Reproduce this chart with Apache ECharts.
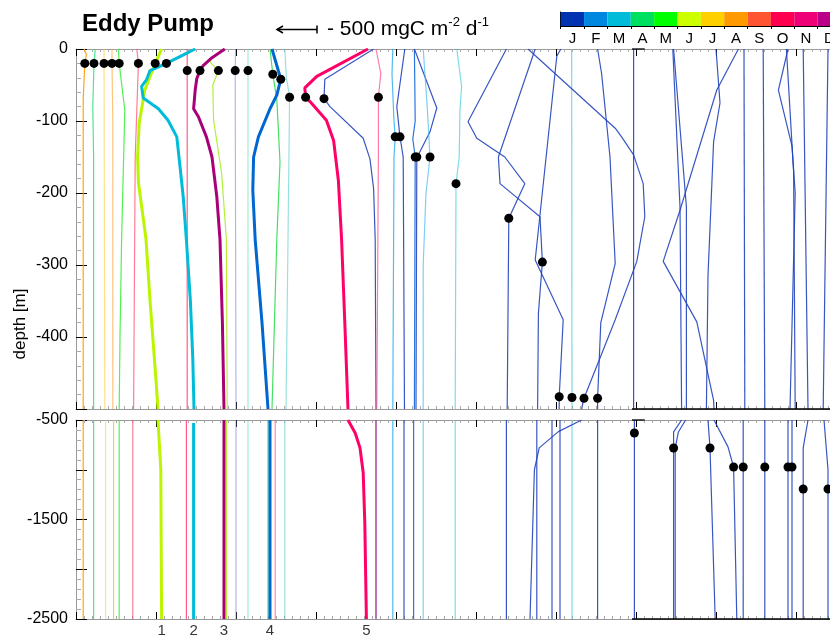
<!DOCTYPE html>
<html>
<head>
<meta charset="utf-8">
<script src="https://cdn.jsdelivr.net/npm/echarts@6/dist/echarts.min.js"></script>
<style>
html,body{margin:0;padding:0;background:#fff;}
#chart{width:830px;height:636px;}
</style>
</head>
<body>
<div id="chart"></div>
<script>
// Month colour scale
const months = ['J','F','M','A','M','J','J','A','S','O','N','D'];
const monthColors = ['#0033b0','#0088e0','#00bcd8','#00e060','#00ff00','#ccff00',
                     '#ffd000','#ff9900','#ff5533','#ff0050','#ee0077','#bb0088'];

// Flux profiles: [cumulative offset (100 mgC m-2 d-1), depth (m)]
// Upper panel 0..-500 m
const upperProfiles = [
  [[1.0,0],[1.3,-8],[1.1,-20],[0.9,-70],[0.9,-500]],
  [[2.4,0],[2.25,-20],[2.1,-80],[2.2,-150],[2.2,-500]],
  [[3.5,0],[3.6,-500]],
  [[4.5,0],[4.5,-20],[4.6,-100],[4.6,-500]],
  [[5.3,0],[5.4,-20],[6.1,-85],[5.7,-265],[5.5,-400],[5.4,-500]],
  [[7.6,0],[7.8,-20],[7.4,-150],[7.2,-500]],
  [[10.7,0],[9.9,-20],[8.6,-57],[7.9,-103],[7.7,-150],[7.8,-185],[8.75,-264],[9.25,-349],[10.0,-460],[10.25,-500]],
  [[14.9,0],[13.8,-6],[11.3,-20],[9.25,-30],[8.8,-43],[8.2,-52],[8.4,-68],[10.3,-83],[11.5,-99],[12.6,-122],[13.0,-163],[13.4,-205],[13.8,-265],[14.3,-350],[14.6,-430],[14.75,-500]],
  [[13.9,0],[13.9,-500]],
  [[18.6,0],[17.0,-12],[15.9,-23],[15.5,-30],[15.1,-41],[14.9,-57],[14.7,-83],[15.3,-94],[16.3,-122],[17.0,-150],[17.6,-205],[18.0,-265],[18.3,-380],[18.5,-500]],
  [[16.7,-15],[16.9,-20],[17.8,-30],[17.1,-50],[17.2,-99],[18.2,-172],[18.8,-265],[18.9,-500]],
  [[19.95,0],[19.9,-30],[20.0,-500]],
  [[21.5,0],[21.5,-500]],
  [[24.5,0],[25.6,-42],[25.1,-64],[24.25,-83],[22.8,-122],[22.2,-150],[22.1,-196],[22.4,-265],[23.25,-380],[24.0,-500]],
  [[24.25,0],[24.6,-35],[25.1,-70],[25.5,-157],[25.1,-265],[24.5,-500]],
  [[26.1,0],[26.3,-40],[26.7,-66],[26.5,-265],[26.25,-500]],
  [[36.5,0],[30.1,-38],[28.6,-54],[28.7,-67],[29.25,-73],[31.3,-99],[32.2,-127],[32.8,-183],[33.2,-265],[33.6,-380],[34.0,-500]],
  [[37.2,0],[31.1,-42],[31.0,-69],[31.75,-80],[35.9,-124],[36.75,-153],[37.2,-194],[37.4,-265],[37.5,-500]],
  [[37.5,0],[38.1,-34],[37.8,-67],[37.8,-150],[37.6,-500]],
  [[39.6,0],[39.5,-35],[39.75,-100],[39.9,-122],[39.75,-150],[39.6,-500]],
  [[41.1,0],[40.1,-80],[40.5,-122],[40.9,-150],[41.06,-500]],
  [[42.3,0],[42.4,-100],[42.1,-125],[42.4,-150],[42.3,-500]],
  [[42.3,0],[45.1,-82],[44.25,-115],[42.8,-147],[42.6,-150],[42.5,-500]],
  [[43.4,0],[43.9,-80],[44.25,-150],[43.75,-200],[43.4,-300],[43.4,-500]],
  [[47.6,0],[48.2,-52],[48.0,-83],[47.9,-150],[47.5,-187],[47.4,-500]],
  [[53.8,0],[49.0,-101],[50.1,-124],[53.6,-150],[56.1,-187],[54.1,-235],[53.9,-500]],
  [[57.4,0],[52.8,-150],[53.0,-187],[58.0,-233],[58.3,-296],[57.8,-367],[57.7,-500]],
  [[60.6,0],[60.1,-10],[57.4,-293],[60.9,-376],[60.4,-483],[60.4,-500]],
  [[61.96,0],[62.0,-500]],
  [[56.5,0],[67.4,-110],[68.2,-122],[69.7,-147],[70.9,-187],[71.1,-233],[70.1,-295],[67.4,-376],[63.5,-485],[63.2,-500]],
  [[65.2,0],[65.7,-34],[66.75,-150],[67.4,-298],[65.6,-380],[65.2,-485],[65.2,-500]],
  [[69.7,0],[69.7,-500]],
  [[74.6,0],[75.5,-219],[75.7,-500]],
  [[74.7,0],[76.3,-219],[76.3,-500]],
  [[82.8,0],[80.1,-57],[75.5,-224],[73.4,-295],[77.6,-379],[79.7,-488],[79.75,-500]],
  [[80.0,0],[80.5,-75],[79.7,-129],[79.0,-315],[78.8,-500]],
  [[83.5,0],[83.6,-500]],
  [[85.9,0],[86.1,-500]],
  [[89.0,0],[87.8,-57],[89.5,-135],[89.9,-200],[89.25,-500]],
  [[88.8,0],[89.7,-170],[89.9,-500]],
  [[90.9,0],[91.5,-500]],
  [[94.0,0],[93.4,-500]],
  null,
  null
];

// Lower panel -500..-2500 m
const lowerProfiles = [
  [[0.9,-500],[0.9,-2500]],
  [[2.2,-500],[2.2,-2500]],
  [[3.7,-500],[3.7,-2500]],
  [[4.7,-500],[4.7,-2500]],
  [[5.4,-500],[5.4,-2500]],
  [[7.1,-500],[7.1,-2500]],
  [[10.25,-500],[10.6,-1000],[10.7,-2500]],
  [[14.7,-530],[14.7,-2500]],
  [[13.8,-500],[13.8,-2500]],
  [[18.5,-500],[18.5,-2500]],
  [[18.8,-500],[18.8,-2500]],
  [[20.0,-500],[20.0,-2500]],
  [[21.5,-500],[21.5,-2500]],
  [[24.25,-500],[24.25,-2500]],
  [[24.0,-500],[24.0,-2500]],
  [[26.1,-500],[26.1,-2500]],
  [[34.0,-500],[34.9,-630],[35.5,-780],[35.9,-1030],[36.1,-1530],[36.3,-2500]],
  [[37.5,-500],[37.5,-2500]],
  [[37.5,-500],[37.5,-2500]],
  [[39.6,-500],[39.6,-2500]],
  [[41.0,-500],[41.0,-2500]],
  [[42.2,-500],[42.2,-2500]],
  null,
  [[43.4,-500],[43.4,-2500]],
  [[47.4,-500],[47.4,-2500]],
  [[53.8,-500],[53.8,-2500]],
  [[57.6,-500],[57.6,-2500]],
  [[60.5,-500],[60.5,-2500]],
  [[62.0,-500],[62.0,-2500]],
  [[63.2,-500],[60.3,-617],[57.9,-780],[57.3,-1000],[56.75,-2500]],
  [[65.2,-500],[65.2,-2500]],
  [[69.8,-500],[69.8,-2500]],
  [[75.7,-500],[74.7,-620],[74.7,-2500]],
  [[76.2,-500],[75.3,-620],[74.9,-781],[74.9,-2500]],
  [[79.75,-500],[81.5,-770],[82.2,-972],[82.6,-2500]],
  [[79.0,-500],[79.25,-781],[79.9,-2500]],
  [[83.4,-500],[83.4,-2500]],
  [[86.1,-500],[86.1,-2500]],
  [[89.0,-500],[89.0,-2500]],
  [[89.5,-500],[89.5,-2500]],
  [[91.5,-500],[90.9,-781],[90.9,-2500]],
  [[93.5,-500],[94.0,-1000],[94.0,-2500]],
  [[24.9,-500],[24.9,-2500]],
  [[59.5,-500],[59.5,-2500]]
];

// Mixed-layer depth markers (m) per profile
const upperDotDepth = [-20,-20,-20,-20,-20,-20,-20,-20,-30,-30,-30,-30,-30,-42,-35,-67,-67,-69,-67,
  -122,-122,-150,-150,-150,-187,-235,-296,-483,-484,-485,-485,
  null,null,null,null,null,null,null,null,null,null,null,null,null];
const lowerDotDepth = [null,null,null,null,null,null,null,null,null,null,null,null,null,null,null,null,
  null,null,null,null,null,null,null,null,null,null,null,null,null,null,null,
  -631,-781,null,-972,-781,-972,-972,-972,-972,-1193,-1193,null,null];

// Profile names written under the axis
const profileLabel = ['','','','','','','1','2','','3','','','','4','','','5','','','','','','','','','','','','','','','','','','','','','','','','','','',''];

// Line styling per profile
const lineColors = ['#ff9900','#22dd77','#ffcc33','#ffaa44','#33ee33','#ff4466','#bbf500','#00bcd8',
  '#ff3366','#aa0077','#aaee22','#7080cc','#55ddaa','#0066d0','#33dd55','#55cccc','#ff0066',
  '#2244bb','#ff4488','#22aaee','#2244bb','#1166dd','#2244bb','#44bbee','#44ccdd',
  '#2244bb','#2244bb','#2244bb','#44cccc','#2244bb','#2244bb','#2244bb','#2244bb','#2244bb',
  '#2244bb','#2244bb','#2244bb','#2244bb','#2244bb','#2244bb','#2244bb','#2244bb','#ff5588','#2244bb'];
const lineAlpha = [0.9,0.8,0.6,0.7,0.85,0.7,1,1,0.8,1,0.9,0.55,0.55,1,0.9,0.6,1,0.9,0.7,0.8,0.9,0.9,0.9,0.7,0.7,
  0.9,0.9,0.9,0.7,0.9,0.9,0.9,0.9,0.9,0.9,0.9,0.9,0.9,0.9,0.9,0.9,0.9,0.7,0.9];

const FONT = '"Liberation Sans", Arial, sans-serif';
const chart = echarts.init(document.getElementById('chart'), null, {renderer: 'canvas'});

function xAtDepth(pts, d) {
  for (let i = 0; i < pts.length - 1; i++) {
    const a = pts[i], b = pts[i + 1];
    if (a[1] >= d && b[1] <= d) {
      const t = a[1] === b[1] ? 0 : (a[1] - d) / (a[1] - b[1]);
      return a[0] + t * (b[0] - a[0]);
    }
  }
  return pts[pts.length - 1][0];
}

const series = [];
function addProfiles(list, xi, yi) {
  list.forEach((pts, i) => {
    if (!pts) return;
    const thick = profileLabel[i] !== '';
    series.push({
      type: 'line', xAxisIndex: xi, yAxisIndex: yi, data: pts,
      showSymbol: false, silent: true, z: thick ? 4 : 3,
      lineStyle: {color: lineColors[i], width: thick ? 3 : 1.2, opacity: lineAlpha[i]}
    });
  });
}
addProfiles(upperProfiles, 0, 0);
addProfiles(lowerProfiles, 2, 1);

function dots(list, depths) {
  const out = [];
  list.forEach((pts, i) => {
    if (pts && depths[i] != null) out.push([xAtDepth(pts, depths[i]), depths[i]]);
  });
  return out;
}
const dotStyle = {color: '#000', opacity: 1, borderWidth: 0};
series.push({type: 'scatter', xAxisIndex: 0, yAxisIndex: 0, data: dots(upperProfiles, upperDotDepth),
  symbolSize: 9, itemStyle: dotStyle, z: 6, silent: true});
series.push({type: 'scatter', xAxisIndex: 2, yAxisIndex: 1, data: dots(lowerProfiles, lowerDotDepth),
  symbolSize: 9, itemStyle: dotStyle, z: 6, silent: true});

// Profile numbers beneath the lower panel
const labelPts = [];
lowerProfiles.forEach((pts, i) => {
  if (pts && profileLabel[i]) labelPts.push({value: [pts[pts.length - 1][0], -2500], name: profileLabel[i]});
});
series.push({type: 'scatter', xAxisIndex: 2, yAxisIndex: 1, data: labelPts, symbolSize: 1,
  itemStyle: {color: 'rgba(0,0,0,0)'}, silent: true, clip: false,
  label: {show: true, position: 'bottom', distance: 4, formatter: p => p.name,
    color: '#000', fontSize: 15, fontFamily: FONT}});

// Month colour bar
series.push({type: 'bar', xAxisIndex: 4, yAxisIndex: 2, barWidth: '100%', barCategoryGap: 0, silent: true,
  data: months.map((m, i) => ({value: 1, itemStyle: {color: monthColors[i]}}))});

function xAxisDef(grid, pos) {
  return {
    type: 'value', gridIndex: grid, position: pos, min: 0, max: 100, interval: 10,
    axisLine: {show: true, onZero: false, lineStyle: {color: '#999', width: 1}},
    axisTick: {show: true, inside: true, length: 7, lineStyle: {color: '#000', width: 1}},
    minorTick: {show: true, splitNumber: 10, length: 3, lineStyle: {color: '#aaa', width: 1}},
    axisLabel: {show: false}, splitLine: {show: false}, minorSplitLine: {show: false}
  };
}

const yCommon = {
  type: 'value', position: 'left',
  axisLine: {show: true, onZero: false, lineStyle: {color: '#999', width: 1}},
  axisTick: {show: true, inside: true, length: 11, lineStyle: {color: '#000', width: 1}},
  minorTick: {show: true, splitNumber: 5, length: 5, lineStyle: {color: '#aaa', width: 1}},
  splitLine: {show: false}, minorSplitLine: {show: false}
};

chart.setOption({
  animation: false,
  textStyle: {fontFamily: FONT},
  grid: [
    {left: 76, top: 49, width: 800, height: 360, outerBoundsMode: 'none', containLabel: false},
    {left: 76, top: 420, width: 800, height: 199, outerBoundsMode: 'none', containLabel: false},
    {left: 560.7, top: 12, width: 280.3, height: 14, outerBoundsMode: 'none', containLabel: false}
  ],
  xAxis: [
    xAxisDef(0, 'bottom'), xAxisDef(0, 'top'),
    xAxisDef(1, 'bottom'), xAxisDef(1, 'top'),
    {type: 'category', gridIndex: 2, data: months, boundaryGap: true,
     axisLine: {show: true, lineStyle: {color: '#000', width: 1}},
     axisTick: {show: true, length: 3, lineStyle: {color: '#000'}},
     axisLabel: {color: '#000', fontSize: 15, margin: 5, fontFamily: FONT}}
  ],
  yAxis: [
    Object.assign({}, yCommon, {gridIndex: 0, min: -500, max: 0, interval: 100,
      axisLabel: {color: '#000', fontSize: 16, margin: 8, fontFamily: FONT,
        formatter: v => v === -500 ? '' : String(v)}}),
    Object.assign({}, yCommon, {gridIndex: 1, min: -2500, max: -500, interval: 500,
      axisLabel: {color: '#000', fontSize: 16, margin: 8, fontFamily: FONT,
        formatter: v => (v === -1000 || v === -2000) ? '' : String(v)}}),
    {type: 'value', gridIndex: 2, min: 0, max: 1, axisLine: {show: true, lineStyle: {color: '#000'}},
     axisTick: {show: false}, axisLabel: {show: false}, splitLine: {show: false}}
  ],
  series: series
});

// Title, scale arrow, depth label and the darker right-hand frame segments
const px0 = chart.convertToPixel({xAxisIndex: 0}, 0);
const px5 = chart.convertToPixel({xAxisIndex: 0}, 5);
const arrowLen = px5 - px0;
const arrowRight = 317, arrowY = 29.5;
const frameX0 = chart.convertToPixel({xAxisIndex: 0}, 69.5);
const frameX1 = chart.convertToPixel({xAxisIndex: 0}, 100);
const capX1 = chart.convertToPixel({xAxisIndex: 0}, 71.1);
const yUpperBottom = chart.convertToPixel({yAxisIndex: 0}, -500);
const yUpperTop = chart.convertToPixel({yAxisIndex: 0}, 0);
const yLowerTop = chart.convertToPixel({yAxisIndex: 1}, -500);
const yLowerBottom = chart.convertToPixel({yAxisIndex: 1}, -2500);
function hline(x1, x2, y) {
  return {type: 'line', z: 10, shape: {x1: x1, y1: y, x2: x2, y2: y}, style: {stroke: '#000', lineWidth: 1.3}};
}
chart.setOption({
  graphic: [
    {type: 'text', left: 82, top: 12,
     style: {text: 'Eddy Pump', font: 'bold 24px ' + FONT, fill: '#000'}},
    {type: 'line', shape: {x1: arrowRight - arrowLen, y1: arrowY, x2: arrowRight, y2: arrowY},
     style: {stroke: '#000', lineWidth: 1.5}},
    {type: 'polyline', shape: {points: [[arrowRight - arrowLen + 6, arrowY - 3.5], [arrowRight - arrowLen, arrowY], [arrowRight - arrowLen + 6, arrowY + 3.5]]},
     style: {stroke: '#000', lineWidth: 1.5, fill: null}},
    {type: 'line', shape: {x1: arrowRight, y1: arrowY - 4, x2: arrowRight, y2: arrowY + 4},
     style: {stroke: '#000', lineWidth: 1.5}},
    {type: 'text', x: 327, y: 16,
     style: {text: '{b|- 500 mgC m}{s|-2}{b| d}{s|-1}', fill: '#000',
       rich: {b: {fontSize: 21, fontFamily: FONT, lineHeight: 24, verticalAlign: 'bottom'},
              s: {fontSize: 13, fontFamily: FONT, lineHeight: 14, verticalAlign: 'top'}}}},
    {type: 'text', x: 20, y: 324, rotation: Math.PI / 2,
     style: {text: 'depth [m]', font: '17px ' + FONT, fill: '#000', align: 'center', verticalAlign: 'middle'}},
    hline(frameX0, frameX1, yUpperBottom),
    hline(frameX0, frameX1, yLowerBottom),
    hline(frameX0, capX1, yUpperTop),
    hline(frameX0, capX1, yLowerTop)
  ]
});
</script>
</body>
</html>
